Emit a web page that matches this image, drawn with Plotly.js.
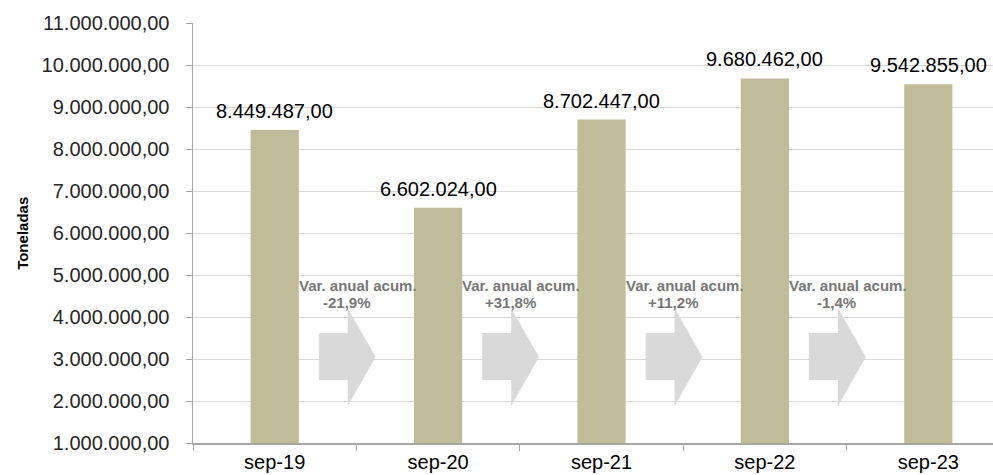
<!DOCTYPE html>
<html>
<head>
<meta charset="utf-8">
<script src="https://cdn.plot.ly/plotly-3.0.1.min.js"></script>
<style>
html,body{margin:0;padding:0;overflow:hidden;background:#fff;width:993px;height:475px;}
#chart{width:1010px;height:475px;}
</style>
</head>
<body>
<div id="chart"></div>
<script>
// ---- data ----
var categories = ['sep-19', 'sep-20', 'sep-21', 'sep-22', 'sep-23'];
var toneladas = [8449487.00, 6602024.00, 8702447.00, 9680462.00, 9542855.00];
var varLabel = 'Var. anual acum.';
var varValues = ['-21,9%', '+31,8%', '+11,2%', '-1,4%'];
var yTitle = 'Toneladas';

function fmtNum(v) {
  var parts = v.toFixed(2).split('.');
  return parts[0].replace(/\B(?=(\d{3})+(?!\d))/g, '.') + ',' + parts[1];
}

var barColor = '#c0bc99';
var arrowColor = '#d9d9d9';
var font = 'Liberation Sans, Arial, sans-serif';

var trace = {
  type: 'bar',
  x: categories,
  y: toneladas,
  marker: {color: barColor},
  width: 0.295,
  hoverinfo: 'x+y'
};

var annotations = [];
categories.forEach(function (c, i) {
  annotations.push({
    x: i, y: toneladas[i], xref: 'x', yref: 'y',
    text: fmtNum(toneladas[i]), showarrow: false,
    yanchor: 'bottom', yshift: 6,
    font: {family: font, size: 20, color: '#000000'}
  });
});

var shapes = [];
varValues.forEach(function (v, i) {
  // block arrow between bar i and bar i+1
  var bl = i + 0.27, hl = i + 0.447, tip = i + 0.618;
  var bt = 3620000, bb = 2500000, ht = 4210000, hb = 1880000, ty = 3050000;
  var path = 'M' + bl + ',' + bt + ' L' + hl + ',' + bt + ' L' + hl + ',' + ht +
             ' L' + tip + ',' + ty + ' L' + hl + ',' + hb + ' L' + hl + ',' + bb +
             ' L' + bl + ',' + bb + ' Z';
  shapes.push({type: 'path', xref: 'x', yref: 'y', path: path,
    fillcolor: arrowColor, line: {width: 0}, layer: 'above'});
  annotations.push({
    x: i + 0.508, y: 4740000, xref: 'x', yref: 'y',
    text: '<b>' + varLabel + '</b>', showarrow: false,
    font: {family: font, size: 15, color: '#777777'}
  });
  annotations.push({
    x: i + 0.44, y: 4340000, xref: 'x', yref: 'y',
    text: '<b>' + v + '</b>', showarrow: false,
    font: {family: font, size: 15, color: '#777777'}
  });
});

annotations.push({
  xref: 'paper', yref: 'paper', x: -0.2095, y: 0.5,
  xanchor: 'center', yanchor: 'middle',
  text: '<b>' + yTitle + '</b>', textangle: -90, showarrow: false,
  font: {family: font, size: 15, color: '#000000'}
});

var layout = {
  width: 1010, height: 475,
  margin: {l: 193, r: 0, t: 23, b: 32, pad: 0},
  paper_bgcolor: '#ffffff', plot_bgcolor: '#ffffff',
  separators: ',.',
  showlegend: false,
  font: {family: font, color: '#262626'},
  xaxis: {
    type: 'category',
    range: [-0.5, 4.5],
    tickson: 'boundaries',
    ticks: 'outside', ticklen: 6, tickcolor: '#a6a6a6',
    showline: true, linecolor: '#a6a6a6', linewidth: 1.5,
    showgrid: false,
    tickfont: {family: font, size: 20, color: '#000000'},
    fixedrange: true
  },
  yaxis: {
    range: [1000000, 11000000],
    dtick: 1000000, tick0: 0,
    tickformat: ',.2f',
    ticks: 'outside', ticklen: 6, tickcolor: '#a6a6a6',
    ticklabelstandoff: 12,
    showline: true, linecolor: '#a6a6a6', linewidth: 1.5,
    showgrid: true, gridcolor: '#d9d9d9', gridwidth: 1,
    zeroline: false,
    tickfont: {family: font, size: 20, color: '#262626'},
    fixedrange: true
  },
  shapes: shapes,
  annotations: annotations
};

Plotly.newPlot('chart', [trace], layout, {displayModeBar: false, staticPlot: true});
</script>
</body>
</html>
